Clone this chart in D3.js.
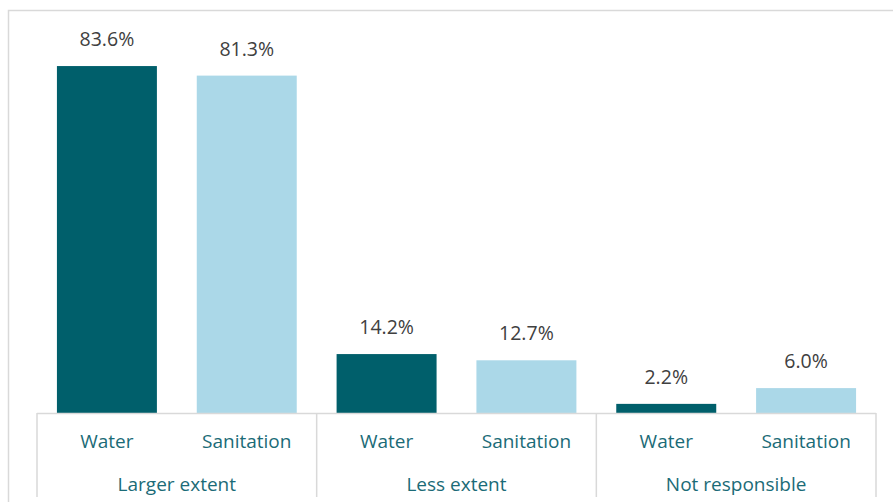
<!DOCTYPE html>
<html>
<head>
<meta charset="utf-8">
<script src="https://cdn.jsdelivr.net/npm/d3@7"></script>
<style>
html,body{margin:0;padding:0;background:#fff;}
svg{display:block;}
</style>
</head>
<body>
<svg id="chart" width="893" height="502"></svg>
<script>
const groups = ["Larger extent", "Less extent", "Not responsible"];
const series = ["Water", "Sanitation"];
const waterValues = [83.6, 14.2, 2.2];
const sanitationValues = [81.3, 12.7, 6.0];
const colors = ["#005f6b", "#abd8e8"];

const svg = d3.select("#chart");
const W = 893, H = 502;
const baseY = 413, topY = 39.5;
const left = 37, right = 876;
const font = "'Open Sans', sans-serif";

// frame
svg.append("path")
  .attr("d", `M8.5,${H} L8.5,10.5 L${W},10.5`)
  .attr("fill", "none").attr("stroke", "#d9d9d9").attr("stroke-width", 1.5);

const x0 = d3.scaleBand().domain(groups).range([left, right]).padding(0);
const x1 = d3.scaleBand().domain(series).range([0, x0.bandwidth()]).padding(0);
const y = d3.scaleLinear().domain([0, 90]).range([baseY, topY]);
const barW = x1.bandwidth() * 0.715;

const data = groups.map((g, i) => ({group: g, vals: [waterValues[i], sanitationValues[i]]}));

const gSel = svg.selectAll("g.grp").data(data).enter().append("g")
  .attr("class", "grp")
  .attr("transform", d => `translate(${x0(d.group)},0)`);

gSel.selectAll("rect").data(d => d.vals.map((v, j) => ({s: series[j], v, j})))
  .enter().append("rect")
  .attr("x", d => x1(d.s) + (x1.bandwidth() - barW) / 2)
  .attr("width", barW)
  .attr("y", d => y(d.v))
  .attr("height", d => baseY - y(d.v))
  .attr("fill", d => colors[d.j]);

gSel.selectAll("text.val").data(d => d.vals.map((v, j) => ({s: series[j], v, j})))
  .enter().append("text")
  .attr("class", "val")
  .attr("x", d => x1(d.s) + x1.bandwidth() / 2)
  .attr("y", d => y(d.v) - 20)
  .attr("text-anchor", "middle")
  .attr("font-family", font)
  .attr("font-size", 19.5)
  .attr("fill", "#404040")
  .text(d => d.v.toFixed(1) + "%");

// axis line
svg.append("line")
  .attr("x1", left).attr("x2", right).attr("y1", baseY + 0.5).attr("y2", baseY + 0.5)
  .attr("stroke", "#d9d9d9").attr("stroke-width", 1.5);

// group separators
const bounds = groups.map(g => x0(g)).concat([x0(groups[groups.length - 1]) + x0.bandwidth()]);
svg.selectAll("line.sep").data(bounds).enter().append("line")
  .attr("class", "sep")
  .attr("x1", d => d).attr("x2", d => d)
  .attr("y1", baseY).attr("y2", 497)
  .attr("stroke", "#d9d9d9").attr("stroke-width", 1.5);

// series labels
gSel.selectAll("text.ser").data(series).enter().append("text")
  .attr("class", "ser")
  .attr("x", d => x1(d) + x1.bandwidth() / 2)
  .attr("y", 448)
  .attr("text-anchor", "middle")
  .attr("font-family", font)
  .attr("font-size", 19)
  .attr("fill", "#1b6b77")
  .text(d => d);

// group labels
gSel.append("text")
  .attr("x", x0.bandwidth() / 2)
  .attr("y", 491)
  .attr("text-anchor", "middle")
  .attr("font-family", font)
  .attr("font-size", 19)
  .attr("fill", "#1b6b77")
  .text(d => d.group);
</script>
</body>
</html>
